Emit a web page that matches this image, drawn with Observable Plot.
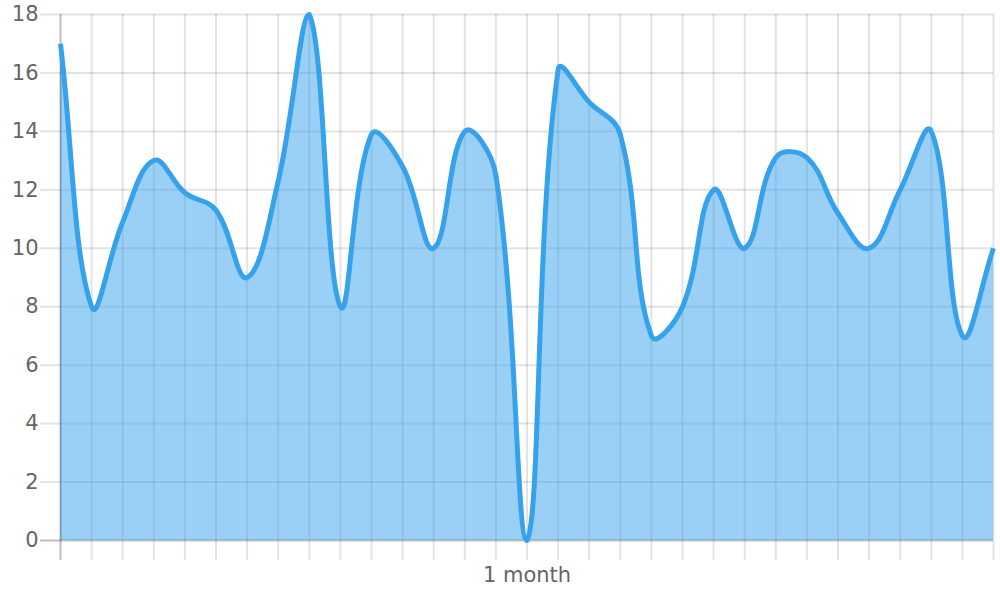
<!DOCTYPE html>
<html>
<head>
<meta charset="utf-8">
<script src="https://cdn.jsdelivr.net/npm/d3@7"></script>
<script src="https://cdn.jsdelivr.net/npm/@observablehq/plot@0.6"></script>
<style>
  html, body { margin: 0; padding: 0; background: #fff; }
</style>
</head>
<body>
<div id="chart"></div>
<script>
// ---- data ----
const xLabels = ["", "", "", "", "", "", "", "", "", "", "", "", "", "", "", "1 month",
                 "", "", "", "", "", "", "", "", "", "", "", "", "", "", ""];
const values = [17, 8, 10.9, 13, 11.9, 11.3, 9, 12.3, 18, 8, 13.9, 12.8, 10, 14, 12.5, 0,
                16.1, 15, 13.9, 7, 8, 12, 10, 13.1, 13.1, 11.2, 10, 12, 14, 7, 10];
const yTicks = [0, 2, 4, 6, 8, 10, 12, 14, 16, 18];

// ---- layout ----
const W = 1000, H = 600;
const M = {left: 60, right: 7, top: 14, bottom: 60};
const box = {left: M.left, right: W - M.right, top: M.top, bottom: H - M.bottom};

const gridColor = "rgba(0,0,0,0.11)";
const zeroColor = "rgba(0,0,0,0.25)";
const lineColor = "rgb(54,162,235)";
const fillColor = "rgba(54,162,235,0.5)";

// Chart.js (v2) style bezier spline with control points capped to the chart area
function chartJsCurve(tension, area) {
  return function(context) {
    let pts = [], line = NaN;
    const cap = (v, lo, hi) => Math.max(lo, Math.min(hi, v));
    function draw() {
      const n = pts.length;
      if (!n) return;
      const cps = pts.map((p, i) => {
        const prev = pts[i - 1] || p, next = pts[i + 1] || p;
        const d01 = Math.hypot(p[0] - prev[0], p[1] - prev[1]);
        const d12 = Math.hypot(next[0] - p[0], next[1] - p[1]);
        let s01 = d01 / (d01 + d12), s12 = d12 / (d01 + d12);
        if (isNaN(s01)) s01 = 0;
        if (isNaN(s12)) s12 = 0;
        const fa = tension * s01, fb = tension * s12;
        return {
          px: cap(p[0] - fa * (next[0] - prev[0]), area.left, area.right),
          py: cap(p[1] - fa * (next[1] - prev[1]), area.top, area.bottom),
          nx: cap(p[0] + fb * (next[0] - prev[0]), area.left, area.right),
          ny: cap(p[1] + fb * (next[1] - prev[1]), area.top, area.bottom)
        };
      });
      if (line) context.lineTo(pts[0][0], pts[0][1]);
      else context.moveTo(pts[0][0], pts[0][1]);
      for (let i = 1; i < n; i++) {
        context.bezierCurveTo(cps[i - 1].nx, cps[i - 1].ny, cps[i].px, cps[i].py, pts[i][0], pts[i][1]);
      }
    }
    return {
      areaStart() { line = 0; },
      areaEnd() { line = NaN; },
      lineStart() { pts = []; },
      lineEnd() {
        draw();
        if (line || (line !== 0 && pts.length === 1)) context.closePath();
        line = 1 - line;
      },
      point(x, y) { pts.push([+x, +y]); }
    };
  };
}

const data = values.map((v, i) => ({i, v}));
const idx = xLabels.map((_, i) => i);
const curve = chartJsCurve(0.4, box);

const chart = Plot.plot({
  width: W,
  height: H,
  marginLeft: M.left,
  marginRight: M.right,
  marginTop: M.top,
  marginBottom: M.bottom,
  style: {fontFamily: "'DejaVu Sans', sans-serif", fontSize: "21px", color: "#666", background: "#fff"},
  x: {type: "linear", domain: [0, xLabels.length - 1]},
  y: {domain: [0, 18]},
  marks: [
    // grid
    Plot.ruleY(yTicks.filter(d => d !== 0), {stroke: gridColor, strokeWidth: 2}),
    Plot.ruleX(idx.filter(i => i !== 0), {stroke: gridColor, strokeWidth: 2}),
    // axes (tick marks + labels)
    Plot.axisY({ticks: yTicks.filter(d => d !== 0), tickSize: 20, tickPadding: 2, stroke: gridColor, strokeWidth: 2, fill: "#666", fontSize: 21, label: null}),
    Plot.axisY({ticks: [0], tickSize: 20, tickPadding: 2, stroke: zeroColor, strokeWidth: 2, fill: "#666", fontSize: 21, label: null}),
    Plot.axisX({ticks: idx.filter(i => i !== 0), tickSize: 20, tickPadding: 7, stroke: gridColor, strokeWidth: 2, fill: "#666", fontSize: 21,
                tickFormat: i => xLabels[i], label: null}),
    Plot.axisX({ticks: [0], tickSize: 20, tickPadding: 7, stroke: zeroColor, strokeWidth: 2, fill: "#666", fontSize: 21,
                tickFormat: i => xLabels[i], label: null}),
    // data
    Plot.areaY(data, {x: "i", y: "v", fill: fillColor, curve}),
    Plot.ruleY([0], {stroke: zeroColor, strokeWidth: 2}),
    Plot.ruleX([0], {stroke: zeroColor, strokeWidth: 2}),
    Plot.lineY(data, {x: "i", y: "v", stroke: lineColor, strokeWidth: 5, strokeLinecap: "butt", strokeLinejoin: "round", curve})
  ]
});
document.getElementById("chart").appendChild(chart);
</script>
</body>
</html>
